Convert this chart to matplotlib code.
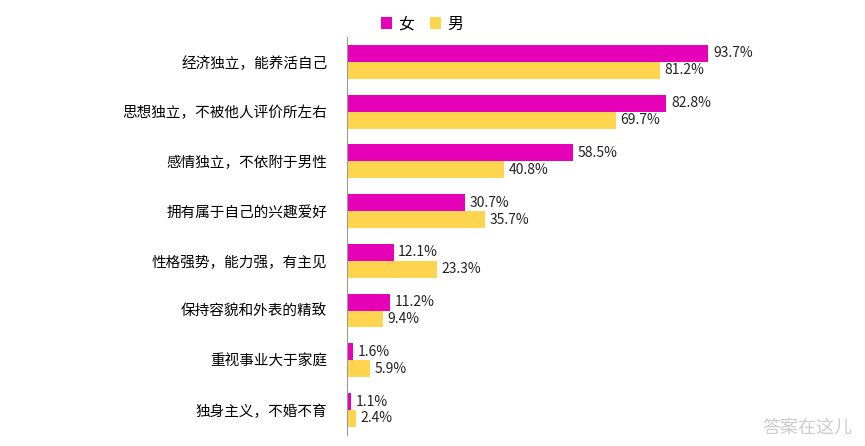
import matplotlib.pyplot as plt
import numpy as np

plt.rcParams["font.family"] = "Noto Sans CJK SC"

categories = ["经济独立，能养活自己", "思想独立，不被他人评价所左右", "感情独立，不依附于男性",
              "拥有属于自己的兴趣爱好", "性格强势，能力强，有主见", "保持容貌和外表的精致",
              "重视事业大于家庭", "独身主义，不婚不育"]
female = [93.7, 82.8, 58.5, 30.7, 12.1, 11.2, 1.6, 1.1]
male = [81.2, 69.7, 40.8, 35.7, 23.3, 9.4, 5.9, 2.4]

c_f = "#E600B8"
c_m = "#FFD54F"

fig = plt.figure(figsize=(8.65, 4.46), dpi=100)
ax = fig.add_axes([0.401, 0.025, 0.446, 0.892])
y = np.arange(len(categories))
h = 0.34
ax.barh(y - h / 2, female, height=h, color=c_f, label="女")
ax.barh(y + h / 2, male, height=h, color=c_m, label="男")
for i in range(len(categories)):
    ax.text(female[i] + 1.2, y[i] - h / 2, f"{female[i]}%", va="center", fontsize=10, color="#222222")
    ax.text(male[i] + 1.2, y[i] + h / 2, f"{male[i]}%", va="center", fontsize=10, color="#222222")
ax.set_xlim(0, 100)
ax.set_ylim(7.5, -0.5)
ax.set_yticks(y)
ax.set_yticklabels(categories, fontsize=10.5)
ax.tick_params(axis="y", length=0, pad=14)
ax.set_xticks([])
for s in ["top", "right", "bottom"]:
    ax.spines[s].set_visible(False)
ax.spines["left"].set_color("#999999")
ax.legend(loc="lower left", bbox_to_anchor=(0.05, 0.975), ncol=2, frameon=False,
          fontsize=11.5, handlelength=0.7, handleheight=0.7, columnspacing=1.0, handletextpad=0.4)
fig.text(0.985, 0.02, "答案在这儿", ha="right", va="bottom", fontsize=13, color="#cccccc")
fig.savefig("out.png")
